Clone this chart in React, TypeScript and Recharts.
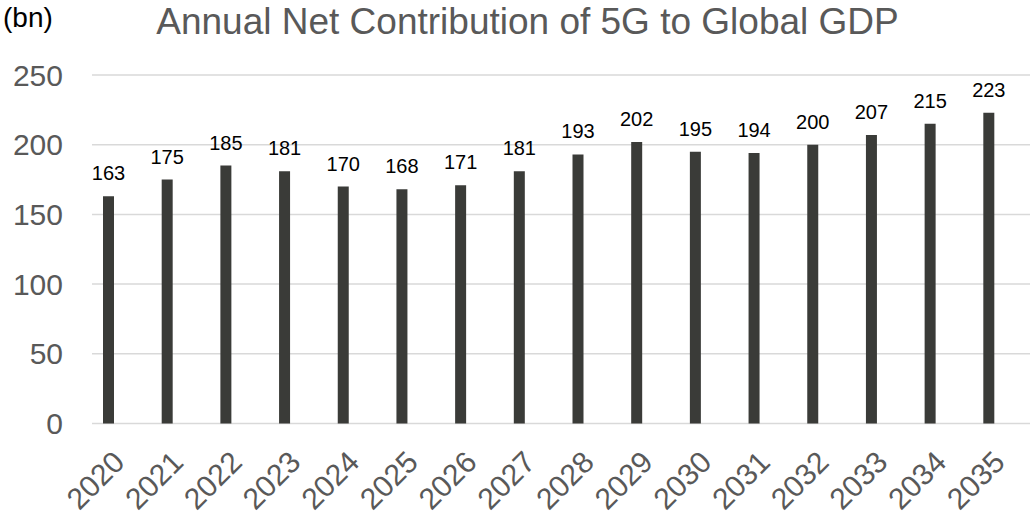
import React from 'react';
import { BarChart, Bar, XAxis, YAxis, CartesianGrid, LabelList } from 'recharts';

const years = ['2020', '2021', '2022', '2023', '2024', '2025', '2026', '2027', '2028', '2029', '2030', '2031', '2032', '2033', '2034', '2035'];
const contribution = [163, 175, 185, 181, 170, 168, 171, 181, 193, 202, 195, 194, 200, 207, 215, 223];
const yTicks = [0, 50, 100, 150, 200, 250];

const data = years.map((year, i) => ({ year, value: contribution[i] }));

const FONT = '"Liberation Sans", Arial, sans-serif';

const YearTick = (props: any) => {
    const { x, y, payload } = props;
    return (
        <g transform={`translate(${x + 18},${y + 40.5})`}>
            <text textAnchor="end" transform="rotate(-45)" fontSize={30} fill="#595959" fontFamily={FONT}>
                {payload.value}
            </text>
        </g>
    );
};

export default function App() {
    return (
        <div style={{ position: 'absolute', left: 0, top: 0, width: 1030, height: 516, background: '#fff' }}>
            <BarChart width={1030} height={516} data={data} margin={{ top: 75, right: 0, bottom: 0, left: 0 }}>
                <text x={3} y={27} fontSize={28} fill="#000" fontFamily={FONT}>(bn)</text>
                <text x={527.5} y={34} fontSize={37} fill="#595959" textAnchor="middle" fontFamily={FONT}>
                    Annual Net Contribution of 5G to Global GDP
                </text>
                <CartesianGrid vertical={false} stroke="#d9d9d9" strokeWidth={1.5} />
                <XAxis
                    dataKey="year"
                    padding={{ left: -13, right: 12 }}
                    axisLine={false}
                    tickLine={false}
                    tickSize={0}
                    tickMargin={0}
                    interval={0}
                    tick={<YearTick />}
                    height={92.5}
                />
                <YAxis
                    domain={[0, 250]}
                    ticks={yTicks}
                    width={92}
                    axisLine={false}
                    tickLine={false}
                    tickSize={0}
                    tickMargin={29}
                    tick={{ fontSize: 30, fill: '#595959', fontFamily: FONT }}
                />
                <Bar dataKey="value" fill="#3a3b38" barSize={11} isAnimationActive={false}>
                    <LabelList dataKey="value" position="top" offset={16} fontSize={20} fill="#000" fontFamily={FONT} />
                </Bar>
            </BarChart>
        </div>
    );
}
